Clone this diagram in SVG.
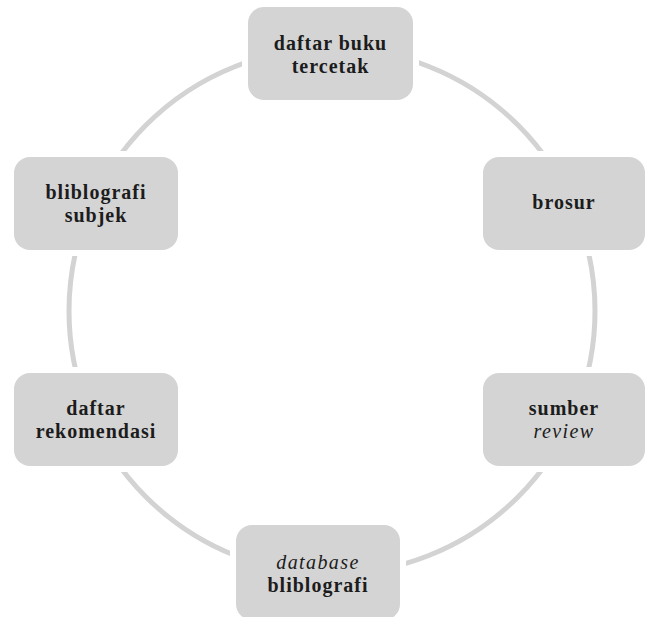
<svg xmlns="http://www.w3.org/2000/svg" width="647" height="617" viewBox="0 0 647 617">
<style>
.box{fill:#d4d4d4;stroke:#ffffff;stroke-width:12;paint-order:stroke}
.t{font-family:"Liberation Serif",serif;font-size:20px;font-weight:bold;fill:#1c1c1c;text-anchor:middle;letter-spacing:1px}
.i{font-weight:normal;font-style:italic;letter-spacing:1.4px}
.ring{fill:none;stroke:#d3d3d3;stroke-width:5}
</style>
<rect width="647" height="617" fill="#ffffff"/>
<g id="connectors">
<circle class="ring" cx="332" cy="311" r="263"/>
</g>
<g id="n-top">
<rect class="box" x="248" y="7" width="165" height="93" rx="16"/>
<text class="t" x="330.5" y="50">daftar buku</text>
<text class="t" x="330.5" y="73">tercetak</text>
</g>
<g id="n-brosur">
<rect class="box" x="483" y="157" width="162" height="93" rx="16"/>
<text class="t" x="564" y="209">brosur</text>
</g>
<g id="n-review">
<rect class="box" x="483" y="373" width="162" height="93" rx="16"/>
<text class="t" x="564" y="415">sumber</text>
<text class="t i" x="564" y="438">review</text>
</g>
<g id="n-database">
<rect class="box" x="236" y="525" width="164" height="95" rx="16"/>
<text class="t i" x="318" y="569">database</text>
<text class="t" x="318" y="592">bliblografi</text>
</g>
<g id="n-rekomendasi">
<rect class="box" x="14" y="373" width="164" height="93" rx="16"/>
<text class="t" x="96" y="415">daftar</text>
<text class="t" x="96" y="438">rekomendasi</text>
</g>
<g id="n-subjek">
<rect class="box" x="14" y="157" width="164" height="93" rx="16"/>
<text class="t" x="96" y="199">bliblografi</text>
<text class="t" x="96" y="222">subjek</text>
</g>
</svg>
